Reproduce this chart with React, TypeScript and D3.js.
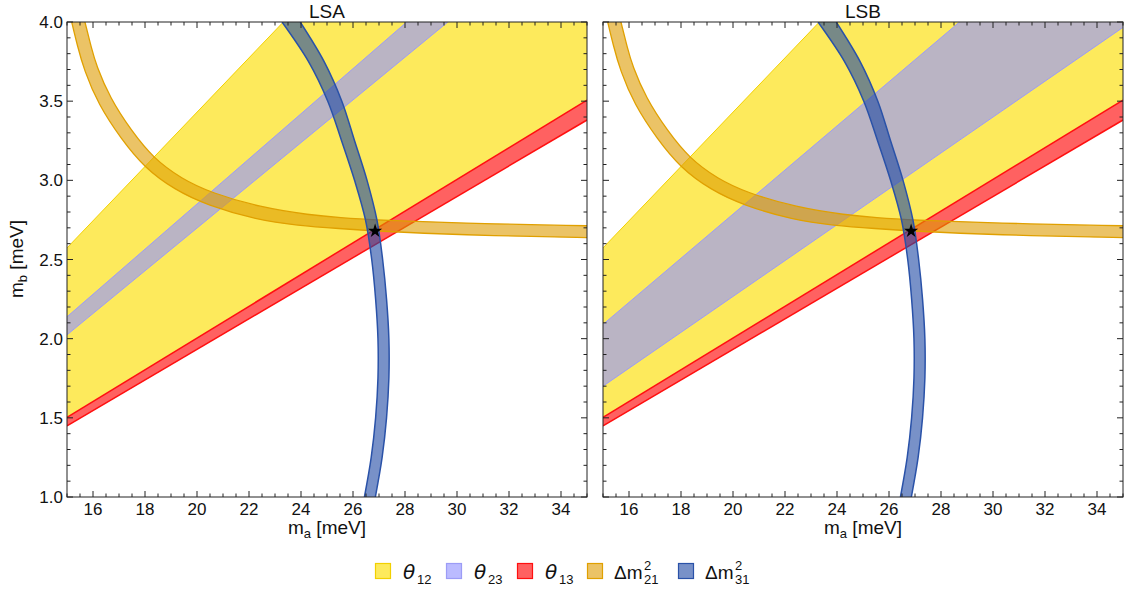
import React from 'react';
import * as d3 from 'd3';

// axis ticks
const xTicks = [16, 18, 20, 22, 24, 26, 28, 30, 32, 34];
const yTicks = [1.0, 1.5, 2.0, 2.5, 3.0, 3.5, 4.0];

// straight bands, edge values of m_b at m_a = 15 and m_a = 35
const edgeMa = [15, 35];
const theta12Hi = [2.573, 6.003];
const theta12Lo = [1.503, 3.507];
const theta13Hi = [1.503, 3.507];
const theta13Lo = [1.449, 3.381];
const theta23HiA = [2.138, 4.988];
const theta23LoA = [2.024, 4.722];
const theta23HiB = [2.09, 4.876];
const theta23LoB = [1.7, 3.966];

// Δm²21 band edges (m_a, m_b)
const dm21UpperMa = [15.69, 15.95, 16.12, 16.65, 17.49, 18.32, 19.4, 20.56, 22.42, 24.37, 25.5, 26.85, 30.1, 35];
const dm21UpperMb = [4.0, 3.83, 3.73, 3.52, 3.31, 3.14, 3.01, 2.92, 2.83, 2.78, 2.764, 2.75, 2.729, 2.713];
const dm21LowerMa = [15.18, 15.4, 15.65, 16.2, 17.08, 17.97, 19.14, 20.39, 22.31, 23.86, 25.5, 26.85, 30.1, 35];
const dm21LowerMb = [4.0, 3.85, 3.7, 3.48, 3.262, 3.081, 2.94, 2.843, 2.75, 2.715, 2.695, 2.68, 2.655, 2.638];

// Δm²31 band edges: m_a at given m_b
const dm31Mb = [4.0, 3.75, 3.5, 3.25, 3.0, 2.75, 2.5, 2.25, 2.0, 1.75, 1.5, 1.25, 1.0];
const dm31Left = [23.27, 24.29, 25.03, 25.56, 26.06, 26.48, 26.72, 26.87, 26.96, 26.96, 26.87, 26.7, 26.44];
const dm31Right = [23.97, 24.89, 25.57, 26.06, 26.54, 26.92, 27.14, 27.29, 27.38, 27.38, 27.29, 27.12, 26.86];

// best fit point
const starMa = 26.85;
const starMb = 2.68;

const font = '"Liberation Sans", Arial, sans-serif';
const plotTop = 22, plotBottom = 497, plotW = 520;

const C = {
  yellow: '#fdea5c', yellowEdge: '#f2d000',
  lav: 'rgb(148,148,255)', lavOp: 0.64, lavEdge: '#9c9cf6',
  red: 'rgb(255,0,0)', redOp: 0.62, redEdge: '#ff1010',
  orange: 'rgb(222,155,0)', orangeOp: 0.6, orangeEdge: '#e0a000',
  blue: 'rgb(30,72,163)', blueOp: 0.6, blueEdge: '#2a52a8',
};

function Panel({ x0, title, hi23, lo23, showY }) {
  const x = d3.scaleLinear().domain([15, 35]).range([x0, x0 + plotW]);
  const y = d3.scaleLinear().domain([1, 4]).range([plotBottom, plotTop]);

  const band = (hi, lo) => {
    const pts = [[edgeMa[0], hi[0]], [edgeMa[1], hi[1]], [edgeMa[1], lo[1]], [edgeMa[0], lo[0]]];
    return d3.line()(pts.map(([a, b]) => [x(a), y(b)])) + 'Z';
  };
  const edge = (vals) => d3.line()(edgeMa.map((a, i) => [x(a), y(vals[i])]));

  const curve = d3.line().x(d => x(d[0])).y(d => y(d[1])).curve(d3.curveCatmullRom.alpha(0.5));
  const smooth = d3.line().x(d => x(d[0])).y(d => y(d[1])).curve(d3.curveBasis);
  const up21 = dm21UpperMa.map((a, i) => [a, dm21UpperMb[i]]);
  const lo21 = dm21LowerMa.map((a, i) => [a, dm21LowerMb[i]]);
  const dm21Fill = smooth(up21) + smooth(lo21.slice().reverse()).replace(/^M/, 'L') + 'Z';

  const left31 = dm31Mb.map((b, i) => [dm31Left[i], b]);
  const right31 = dm31Mb.map((b, i) => [dm31Right[i], b]);
  const dm31Fill = curve(left31) + curve(right31.slice().reverse()).replace(/^M/, 'L') + 'Z';

  const star = d3.symbol(d3.symbolStar, 62)();

  const minorX = d3.range(15, 35.01, 0.5).filter(v => !xTicks.includes(v));
  const minorY = d3.range(10, 40.01, 1).map(v => v / 10).filter(v => !yTicks.some(t => Math.abs(t - v) < 1e-6));

  const id = `clip-${title}`;
  return (
    <g>
      <clipPath id={id}>
        <rect x={x0} y={plotTop} width={plotW} height={plotBottom - plotTop} />
      </clipPath>
      <g clipPath={`url(#${id})`}>
        <path d={band(theta12Hi, theta12Lo)} fill={C.yellow} />
        <path d={edge(theta12Hi)} fill="none" stroke={C.yellowEdge} strokeWidth={1} />
        <path d={band(hi23, lo23)} fill={C.lav} fillOpacity={C.lavOp} />
        <path d={edge(hi23)} fill="none" stroke={C.lavEdge} strokeWidth={1} />
        <path d={edge(lo23)} fill="none" stroke={C.lavEdge} strokeWidth={1} />
        <path d={band(theta13Hi, theta13Lo)} fill={C.red} fillOpacity={C.redOp} />
        <path d={edge(theta13Hi)} fill="none" stroke={C.redEdge} strokeWidth={1.5} />
        <path d={edge(theta13Lo)} fill="none" stroke={C.redEdge} strokeWidth={1.5} />
        <path d={dm21Fill} fill={C.orange} fillOpacity={C.orangeOp} />
        <path d={smooth(up21)} fill="none" stroke={C.orangeEdge} strokeWidth={1.3} />
        <path d={smooth(lo21)} fill="none" stroke={C.orangeEdge} strokeWidth={1.3} />
        <path d={dm31Fill} fill={C.blue} fillOpacity={C.blueOp} />
        <path d={curve(left31)} fill="none" stroke={C.blueEdge} strokeWidth={1.5} />
        <path d={curve(right31)} fill="none" stroke={C.blueEdge} strokeWidth={1.5} />
        <path d={star} transform={`translate(${x(starMa)},${y(starMb)})`} fill="#000" />
      </g>
      {/* frame */}
      <rect x={x0} y={plotTop} width={plotW} height={plotBottom - plotTop} fill="none" stroke="#222" strokeWidth={1} />
      <g stroke="#222" strokeWidth={1}>
        {xTicks.map(v => (
          <g key={'mx' + v}>
            <line x1={x(v)} x2={x(v)} y1={plotBottom} y2={plotBottom - 6} />
            <line x1={x(v)} x2={x(v)} y1={plotTop} y2={plotTop + 6} />
          </g>
        ))}
        {minorX.map(v => (
          <g key={'nx' + v}>
            <line x1={x(v)} x2={x(v)} y1={plotBottom} y2={plotBottom - 3.5} />
            <line x1={x(v)} x2={x(v)} y1={plotTop} y2={plotTop + 3.5} />
          </g>
        ))}
        {yTicks.map(v => (
          <g key={'my' + v}>
            <line x1={x0} x2={x0 + 6} y1={y(v)} y2={y(v)} />
            <line x1={x0 + plotW} x2={x0 + plotW - 6} y1={y(v)} y2={y(v)} />
          </g>
        ))}
        {minorY.map(v => (
          <g key={'ny' + v}>
            <line x1={x0} x2={x0 + 3.5} y1={y(v)} y2={y(v)} />
            <line x1={x0 + plotW} x2={x0 + plotW - 3.5} y1={y(v)} y2={y(v)} />
          </g>
        ))}
      </g>
      <g fontFamily={font} fontSize={17} fill="#111">
        {xTicks.map(v => (
          <text key={'tx' + v} x={x(v)} y={plotBottom + 18} textAnchor="middle">{v}</text>
        ))}
        {showY && yTicks.map(v => (
          <text key={'ty' + v} x={x0 - 4} y={y(v) + 6} textAnchor="end">{d3.format('.1f')(v)}</text>
        ))}
      </g>
      <text x={x0 + plotW / 2} y={18} textAnchor="middle" fontFamily={font} fontSize={19} fill="#111">{title}</text>
      <text x={x0 + plotW / 2} y={534} textAnchor="middle" fontFamily={font} fontSize={19} fill="#111">
        m<tspan dy={4} fontSize={13}>a</tspan><tspan dy={-4}> [meV]</tspan>
      </text>
    </g>
  );
}

const legendNames = ['θ', 'θ', 'θ', 'Δm', 'Δm'];
const legendSubs = ['12', '23', '13', '21', '31'];
const legendSups = ['', '', '', '2', '2'];
const legendFill = [C.yellow, C.lav, C.red, C.orange, C.blue];
const legendOp = [1, C.lavOp, C.redOp, C.orangeOp, C.blueOp];
const legendEdge = [C.yellowEdge, C.lavEdge, C.redEdge, C.orangeEdge, C.blueEdge];

function Legend() {
  const xs = [375, 446, 517, 587, 678];
  return (
    <g fontFamily={font} fill="#111">
      {xs.map((lx, i) => {
        const isTheta = i < 3;
        const subX = isTheta ? lx + 42 : lx + 57;
        return (
          <g key={i}>
            <rect x={lx + 0.5} y={563.5} width={15} height={15} fill={legendFill[i]} fillOpacity={legendOp[i]}
              stroke={legendEdge[i]} strokeWidth={1.2} />
            {isTheta
              ? <text x={lx + 28} y={579} fontSize={20} fontFamily='"DejaVu Sans", sans-serif' fontStyle="italic">{legendNames[i]}</text>
              : <text x={lx + 27} y={579} fontSize={19}>{legendNames[i]}</text>}
            {legendSups[i] && <text x={subX} y={570} fontSize={13}>{legendSups[i]}</text>}
            <text x={subX} y={584} fontSize={13}>{legendSubs[i]}</text>
          </g>
        );
      })}
    </g>
  );
}

export default function App() {
  return (
    <svg width={1126} height={592} style={{ position: 'absolute', left: 0, top: 0, background: '#fff' }}>
      <rect width={1126} height={592} fill="#fff" />
      <Panel x0={67} title="LSA" hi23={theta23HiA} lo23={theta23LoA} showY={true} />
      <Panel x0={603} title="LSB" hi23={theta23HiB} lo23={theta23LoB} showY={false} />
      <text transform="translate(23,259) rotate(-90)" textAnchor="middle" fontFamily={font} fontSize={19} fill="#111">
        m<tspan dy={4} fontSize={13}>b</tspan><tspan dy={-4}> [meV]</tspan>
      </text>
      <Legend />
    </svg>
  );
}
